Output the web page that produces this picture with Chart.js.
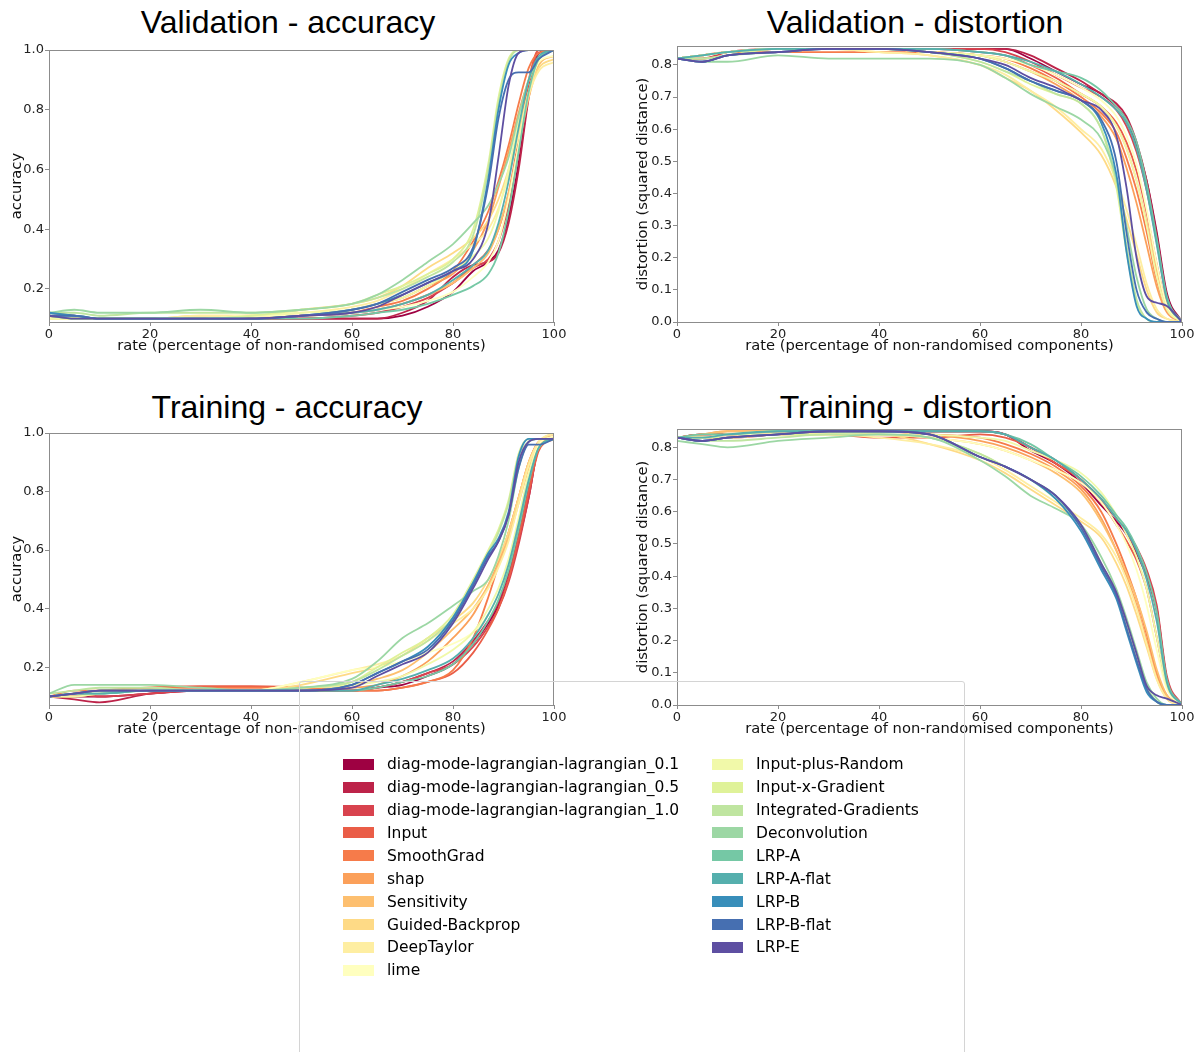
<!DOCTYPE html>
<html>
<head>
<meta charset="utf-8">
<script src="https://cdn.jsdelivr.net/npm/chart.js@4.4.1/dist/chart.umd.min.js"></script>
<style>
  html,body{margin:0;padding:0;background:#fff;}
  body{width:1203px;height:1052px;overflow:hidden;position:relative;font-family:"DejaVu Sans",sans-serif;}
  .ttl{position:absolute;font-family:"Liberation Sans",Arial,sans-serif;font-size:32px;line-height:32px;color:#000;white-space:nowrap;transform:translateX(-50%);}
  .cv{position:absolute;}
  #frame{position:absolute;left:299px;top:681px;width:666px;height:420px;box-sizing:border-box;border:1px solid #d4d4d4;border-radius:3px;pointer-events:none;}
  .col{position:absolute;top:752.85px;}
  .row{height:22.9px;display:flex;align-items:center;font-size:15.5px;color:#000;white-space:nowrap;}
  .sw{display:inline-block;width:31px;height:11px;margin-right:13px;flex:none;}
</style>
</head>
<body>
<script>
// ---------------- data ----------------
const rates = [0,5,10,20,30,40,50,60,65,70,75,80,84,87,89,91,93,95,97,100];
const methods = [
  "diag-mode-lagrangian-lagrangian_0.1","diag-mode-lagrangian-lagrangian_0.5","diag-mode-lagrangian-lagrangian_1.0",
  "Input","SmoothGrad","shap","Sensitivity","Guided-Backprop","DeepTaylor","lime",
  "Input-plus-Random","Input-x-Gradient","Integrated-Gradients","Deconvolution",
  "LRP-A","LRP-A-flat","LRP-B","LRP-B-flat","LRP-E"
];
const palette = [
  "#9e0142","#bd2349","#d8434e","#ea5d47","#f67b4a","#fba05a","#fdbf6f","#feda86","#feeea2","#ffffbf",
  "#f1f9a9","#dff299","#bfe5a0","#9cd7a4","#75c8a5","#55afad","#388eba","#466fb1","#5e4fa2"
];
const rateTicks = [0,20,40,60,80,100];
const accuracyTicks = [0.2,0.4,0.6,0.8,1.0];
const distortionTicks = [0.0,0.1,0.2,0.3,0.4,0.5,0.6,0.7,0.8];

// Validation - accuracy (rows follow `methods`)
const valAccuracy = [
  [0.11,0.10,0.10,0.10,0.10,0.10,0.10,0.10,0.10,0.11,0.14,0.19,0.26,0.29,0.33,0.44,0.62,0.85,0.99,1.0],
  [0.12,0.11,0.10,0.10,0.10,0.10,0.10,0.10,0.10,0.12,0.16,0.24,0.28,0.29,0.32,0.42,0.60,0.84,0.99,1.0],
  [0.11,0.10,0.10,0.10,0.10,0.10,0.10,0.11,0.12,0.14,0.17,0.22,0.27,0.30,0.36,0.48,0.66,0.88,1.0,1.0],
  [0.10,0.10,0.10,0.10,0.10,0.10,0.11,0.12,0.13,0.15,0.18,0.22,0.28,0.33,0.40,0.52,0.70,0.90,1.0,1.0],
  [0.11,0.10,0.10,0.10,0.10,0.10,0.11,0.12,0.14,0.16,0.20,0.26,0.36,0.46,0.56,0.68,0.82,0.94,0.99,1.0],
  [0.10,0.10,0.10,0.10,0.10,0.11,0.11,0.13,0.15,0.17,0.21,0.25,0.33,0.43,0.54,0.66,0.79,0.90,0.97,1.0],
  [0.11,0.10,0.10,0.10,0.10,0.10,0.11,0.12,0.13,0.15,0.18,0.22,0.27,0.32,0.40,0.52,0.68,0.84,0.95,0.98],
  [0.10,0.10,0.10,0.10,0.11,0.11,0.13,0.15,0.17,0.21,0.27,0.32,0.37,0.43,0.50,0.60,0.73,0.86,0.94,0.97],
  [0.10,0.10,0.10,0.10,0.11,0.11,0.12,0.14,0.16,0.20,0.25,0.30,0.35,0.40,0.47,0.58,0.71,0.85,0.93,0.96],
  [0.10,0.10,0.10,0.10,0.10,0.11,0.11,0.12,0.13,0.14,0.16,0.19,0.24,0.29,0.36,0.50,0.68,0.86,0.96,0.98],
  [0.10,0.10,0.10,0.10,0.10,0.11,0.12,0.13,0.15,0.17,0.21,0.26,0.31,0.37,0.46,0.60,0.76,0.90,0.97,1.0],
  [0.11,0.10,0.10,0.10,0.10,0.11,0.13,0.15,0.18,0.21,0.25,0.30,0.40,0.62,0.84,0.97,1.0,1.0,1.0,1.0],
  [0.12,0.12,0.11,0.12,0.12,0.12,0.13,0.15,0.17,0.20,0.24,0.29,0.38,0.60,0.82,0.96,1.0,1.0,1.0,1.0],
  [0.12,0.13,0.12,0.12,0.13,0.12,0.13,0.15,0.18,0.23,0.29,0.35,0.42,0.48,0.55,0.64,0.78,0.90,0.97,1.0],
  [0.11,0.10,0.10,0.10,0.10,0.10,0.10,0.11,0.12,0.13,0.15,0.18,0.21,0.25,0.32,0.46,0.66,0.86,0.97,1.0],
  [0.11,0.11,0.10,0.10,0.10,0.10,0.11,0.12,0.13,0.15,0.18,0.23,0.28,0.33,0.42,0.56,0.74,0.90,0.98,1.0],
  [0.12,0.11,0.10,0.10,0.10,0.10,0.11,0.13,0.15,0.18,0.22,0.26,0.33,0.57,0.80,0.95,0.99,1.0,1.0,1.0],
  [0.11,0.11,0.10,0.10,0.10,0.10,0.11,0.13,0.15,0.19,0.23,0.27,0.34,0.55,0.77,0.90,0.925,0.925,0.97,1.0],
  [0.11,0.10,0.10,0.10,0.10,0.10,0.11,0.12,0.14,0.18,0.22,0.26,0.30,0.42,0.64,0.88,0.99,1.0,1.0,1.0]
];

// Validation - distortion
const valDistortion = [
  [0.82,0.83,0.84,0.85,0.85,0.85,0.85,0.85,0.85,0.82,0.78,0.74,0.71,0.67,0.63,0.55,0.44,0.28,0.09,0.0],
  [0.82,0.82,0.83,0.85,0.85,0.85,0.85,0.85,0.85,0.83,0.79,0.75,0.71,0.68,0.64,0.56,0.44,0.27,0.08,0.0],
  [0.82,0.82,0.84,0.85,0.85,0.85,0.85,0.85,0.84,0.81,0.77,0.73,0.70,0.66,0.61,0.53,0.41,0.25,0.07,0.0],
  [0.82,0.83,0.84,0.85,0.85,0.85,0.85,0.84,0.83,0.80,0.76,0.71,0.67,0.62,0.56,0.47,0.34,0.18,0.05,0.0],
  [0.82,0.83,0.84,0.84,0.84,0.84,0.84,0.83,0.82,0.79,0.75,0.70,0.65,0.59,0.51,0.41,0.28,0.13,0.04,0.0],
  [0.82,0.83,0.84,0.85,0.85,0.85,0.84,0.83,0.81,0.78,0.74,0.69,0.64,0.57,0.48,0.37,0.24,0.11,0.03,0.0],
  [0.82,0.83,0.84,0.85,0.85,0.85,0.84,0.83,0.81,0.78,0.75,0.71,0.67,0.61,0.54,0.44,0.31,0.16,0.05,0.0],
  [0.82,0.83,0.84,0.85,0.85,0.84,0.83,0.80,0.76,0.72,0.66,0.59,0.52,0.42,0.32,0.21,0.10,0.03,0.01,0.0],
  [0.82,0.83,0.84,0.85,0.85,0.84,0.83,0.80,0.77,0.72,0.67,0.60,0.54,0.44,0.35,0.24,0.12,0.04,0.01,0.0],
  [0.82,0.83,0.84,0.85,0.85,0.85,0.84,0.83,0.82,0.80,0.77,0.73,0.69,0.64,0.58,0.49,0.35,0.18,0.05,0.0],
  [0.82,0.83,0.84,0.85,0.85,0.85,0.84,0.83,0.81,0.78,0.75,0.71,0.67,0.61,0.54,0.44,0.30,0.14,0.04,0.0],
  [0.82,0.82,0.83,0.85,0.85,0.85,0.84,0.81,0.78,0.74,0.71,0.68,0.60,0.42,0.22,0.06,0.01,0.0,0.0,0.0],
  [0.82,0.82,0.83,0.84,0.85,0.85,0.84,0.81,0.78,0.75,0.71,0.68,0.60,0.44,0.24,0.07,0.01,0.0,0.0,0.0],
  [0.82,0.81,0.81,0.83,0.82,0.82,0.82,0.80,0.76,0.71,0.67,0.63,0.57,0.45,0.30,0.14,0.04,0.01,0.0,0.0],
  [0.82,0.83,0.84,0.85,0.85,0.85,0.85,0.84,0.83,0.80,0.78,0.76,0.72,0.67,0.63,0.56,0.43,0.26,0.08,0.0],
  [0.82,0.83,0.84,0.85,0.85,0.85,0.85,0.84,0.83,0.81,0.78,0.74,0.70,0.66,0.62,0.54,0.41,0.24,0.07,0.0],
  [0.82,0.81,0.83,0.84,0.85,0.85,0.84,0.82,0.79,0.75,0.72,0.69,0.62,0.46,0.22,0.05,0.01,0.0,0.0,0.0],
  [0.82,0.81,0.83,0.84,0.85,0.85,0.84,0.82,0.79,0.75,0.72,0.69,0.63,0.50,0.28,0.10,0.03,0.01,0.0,0.0],
  [0.82,0.81,0.83,0.84,0.85,0.85,0.84,0.82,0.80,0.76,0.73,0.69,0.66,0.58,0.42,0.20,0.08,0.06,0.05,0.0]
];

// Training - accuracy
const trainAccuracy = [
  [0.10,0.10,0.10,0.11,0.12,0.12,0.12,0.12,0.13,0.14,0.17,0.21,0.28,0.35,0.41,0.50,0.63,0.78,0.95,0.98],
  [0.10,0.09,0.08,0.11,0.12,0.12,0.12,0.12,0.13,0.15,0.18,0.22,0.29,0.36,0.42,0.52,0.66,0.82,0.96,0.98],
  [0.10,0.11,0.10,0.11,0.12,0.12,0.12,0.12,0.13,0.15,0.18,0.21,0.27,0.34,0.40,0.49,0.62,0.78,0.95,0.98],
  [0.10,0.11,0.12,0.13,0.135,0.135,0.13,0.12,0.12,0.13,0.15,0.18,0.25,0.33,0.40,0.50,0.64,0.80,0.94,0.98],
  [0.10,0.12,0.12,0.13,0.13,0.13,0.13,0.12,0.12,0.13,0.15,0.19,0.30,0.44,0.55,0.66,0.78,0.90,0.97,0.98],
  [0.10,0.11,0.12,0.12,0.12,0.12,0.12,0.13,0.14,0.17,0.22,0.30,0.38,0.48,0.56,0.66,0.78,0.90,0.97,0.99],
  [0.10,0.10,0.11,0.12,0.12,0.12,0.13,0.14,0.16,0.19,0.25,0.33,0.40,0.48,0.55,0.64,0.76,0.88,0.96,0.99],
  [0.10,0.11,0.12,0.12,0.12,0.12,0.14,0.18,0.20,0.24,0.30,0.36,0.42,0.50,0.57,0.66,0.78,0.90,0.97,1.0],
  [0.10,0.11,0.12,0.12,0.12,0.12,0.15,0.19,0.21,0.24,0.29,0.35,0.40,0.47,0.54,0.63,0.76,0.89,0.97,1.0],
  [0.10,0.11,0.11,0.12,0.12,0.12,0.15,0.19,0.20,0.22,0.25,0.28,0.32,0.38,0.45,0.55,0.70,0.86,0.96,0.99],
  [0.10,0.10,0.11,0.12,0.12,0.12,0.13,0.14,0.15,0.17,0.21,0.26,0.32,0.40,0.47,0.57,0.71,0.86,0.95,0.98],
  [0.10,0.11,0.12,0.12,0.12,0.12,0.13,0.15,0.20,0.25,0.30,0.38,0.50,0.60,0.67,0.77,0.93,0.98,0.98,0.98],
  [0.11,0.12,0.13,0.13,0.12,0.12,0.13,0.15,0.19,0.24,0.29,0.37,0.49,0.59,0.66,0.76,0.92,0.97,0.98,0.98],
  [0.11,0.14,0.14,0.14,0.13,0.12,0.13,0.16,0.22,0.30,0.35,0.41,0.46,0.50,0.58,0.70,0.88,0.97,0.98,0.98],
  [0.10,0.11,0.11,0.12,0.12,0.12,0.12,0.12,0.13,0.15,0.17,0.21,0.28,0.36,0.43,0.53,0.67,0.83,0.95,0.98],
  [0.10,0.11,0.11,0.12,0.12,0.12,0.12,0.12,0.14,0.16,0.19,0.23,0.30,0.38,0.45,0.55,0.69,0.84,0.95,0.98],
  [0.10,0.11,0.12,0.12,0.12,0.12,0.12,0.14,0.18,0.22,0.27,0.37,0.49,0.59,0.64,0.73,0.92,0.98,0.98,0.98],
  [0.10,0.11,0.12,0.12,0.12,0.12,0.12,0.14,0.18,0.22,0.26,0.36,0.48,0.58,0.63,0.72,0.88,0.96,0.96,0.98],
  [0.10,0.11,0.12,0.12,0.12,0.12,0.12,0.13,0.17,0.21,0.25,0.35,0.47,0.57,0.63,0.72,0.90,0.97,0.98,0.98]
];

// Training - distortion
const trainDistortion = [
  [0.83,0.84,0.84,0.85,0.85,0.85,0.85,0.85,0.84,0.79,0.75,0.69,0.62,0.57,0.53,0.47,0.40,0.30,0.08,0.0],
  [0.83,0.83,0.84,0.84,0.85,0.85,0.85,0.85,0.84,0.80,0.75,0.70,0.63,0.58,0.54,0.48,0.40,0.29,0.08,0.0],
  [0.83,0.83,0.83,0.84,0.85,0.85,0.85,0.85,0.84,0.80,0.76,0.70,0.64,0.58,0.54,0.49,0.42,0.31,0.09,0.0],
  [0.83,0.84,0.84,0.84,0.84,0.83,0.83,0.84,0.83,0.80,0.75,0.70,0.63,0.56,0.51,0.45,0.36,0.21,0.06,0.0],
  [0.83,0.84,0.84,0.85,0.85,0.85,0.84,0.83,0.81,0.78,0.74,0.68,0.60,0.50,0.42,0.33,0.22,0.10,0.03,0.0],
  [0.83,0.84,0.85,0.85,0.85,0.85,0.84,0.82,0.80,0.77,0.73,0.67,0.58,0.48,0.40,0.31,0.20,0.09,0.02,0.0],
  [0.83,0.84,0.85,0.85,0.85,0.84,0.83,0.81,0.79,0.76,0.72,0.66,0.57,0.48,0.41,0.33,0.23,0.11,0.03,0.0],
  [0.83,0.83,0.84,0.84,0.84,0.84,0.81,0.76,0.72,0.67,0.62,0.57,0.52,0.44,0.37,0.28,0.18,0.08,0.02,0.0],
  [0.83,0.83,0.84,0.84,0.84,0.83,0.81,0.77,0.73,0.68,0.63,0.58,0.53,0.46,0.39,0.30,0.19,0.08,0.02,0.0],
  [0.83,0.83,0.84,0.84,0.84,0.84,0.83,0.81,0.79,0.76,0.73,0.69,0.63,0.56,0.50,0.42,0.31,0.17,0.05,0.0],
  [0.83,0.83,0.84,0.85,0.85,0.85,0.84,0.83,0.82,0.79,0.76,0.72,0.66,0.59,0.53,0.46,0.36,0.21,0.06,0.0],
  [0.83,0.83,0.83,0.84,0.84,0.84,0.83,0.78,0.74,0.70,0.65,0.55,0.43,0.34,0.25,0.15,0.05,0.01,0.0,0.0],
  [0.83,0.82,0.82,0.83,0.84,0.84,0.83,0.78,0.74,0.70,0.64,0.56,0.44,0.35,0.26,0.16,0.06,0.01,0.0,0.0],
  [0.82,0.81,0.80,0.82,0.83,0.84,0.83,0.76,0.71,0.65,0.61,0.56,0.46,0.36,0.27,0.17,0.07,0.02,0.0,0.0],
  [0.83,0.84,0.84,0.85,0.85,0.85,0.85,0.85,0.84,0.81,0.76,0.71,0.65,0.59,0.55,0.49,0.41,0.29,0.08,0.0],
  [0.83,0.83,0.84,0.85,0.85,0.85,0.85,0.85,0.84,0.80,0.76,0.70,0.64,0.58,0.54,0.48,0.39,0.26,0.07,0.0],
  [0.83,0.82,0.83,0.84,0.85,0.85,0.84,0.77,0.74,0.70,0.64,0.54,0.42,0.33,0.23,0.13,0.04,0.01,0.0,0.0],
  [0.83,0.82,0.83,0.84,0.85,0.85,0.84,0.77,0.74,0.70,0.65,0.55,0.43,0.34,0.24,0.14,0.05,0.01,0.0,0.0],
  [0.83,0.82,0.83,0.84,0.85,0.85,0.84,0.77,0.74,0.70,0.65,0.56,0.44,0.35,0.26,0.16,0.06,0.03,0.02,0.0]
];
</script>

<div class="ttl" style="left:288px;top:6px;">Validation - accuracy</div>
<div class="ttl" style="left:915px;top:6px;">Validation - distortion</div>
<div class="ttl" style="left:287px;top:391px;">Training - accuracy</div>
<div class="ttl" style="left:916px;top:391px;">Training - distortion</div>

<canvas id="c1" class="cv" width="600" height="320" style="left:0;top:40px;"></canvas>
<canvas id="c2" class="cv" width="583" height="330" style="left:620px;top:30px;"></canvas>
<canvas id="c3" class="cv" width="600" height="320" style="left:0;top:423px;"></canvas>
<canvas id="c4" class="cv" width="583" height="330" style="left:620px;top:413px;"></canvas>

<div id="frame"></div>
<div id="col1" class="col" style="left:343px;"></div>
<div id="col2" class="col" style="left:712px;"></div>

<script>
Chart.defaults.font.family = '"DejaVu Sans", sans-serif';
Chart.defaults.color = '#222';

const spineColor = '#8c8c8c';
const framePlugin = {
  id: 'frame',
  afterDatasetsDraw(chart) {
    const {ctx, chartArea: a} = chart;
    ctx.save();
    ctx.strokeStyle = spineColor;
    ctx.lineWidth = 1;
    ctx.strokeRect(a.left + 0.5, a.top + 0.5, a.right - a.left - 1, a.bottom - a.top);
    ctx.restore();
  }
};

function makeChart(id, series, yTicks, yMin, yMax, yTitle, yWidth, yTitlePad, padTop, padRight) {
  const datasets = methods.map((name, i) => ({
    label: name,
    data: rates.map((r, j) => ({x: r, y: series[i][j]})),
    borderColor: palette[i],
    backgroundColor: palette[i],
    borderWidth: 1.8,
    pointRadius: 0,
    cubicInterpolationMode: 'monotone',
    order: methods.length - i
  }));
  return new Chart(document.getElementById(id), {
    type: 'line',
    data: {datasets},
    plugins: [framePlugin],
    options: {
      responsive: false,
      animation: false,
      events: [],
      layout: {padding: {top: padTop, right: padRight, left: 0, bottom: 0}},
      plugins: {legend: {display: false}, tooltip: {enabled: false}},
      scales: {
        x: {
          type: 'linear', min: 0, max: 100,
          afterBuildTicks: s => { s.ticks = rateTicks.map(v => ({value: v})); },
          afterFit: s => { s.height = 38; },
          ticks: {font: {size: 13}, color: '#222', padding: 1, maxRotation: 0, callback: v => String(v)},
          grid: {display: true, drawOnChartArea: false, drawTicks: true, tickLength: 4, color: spineColor},
          border: {display: false},
          title: {display: true, text: 'rate (percentage of non-randomised components)', font: {size: 14.7}, color: '#111', padding: {top: 0, bottom: 5}}
        },
        y: {
          type: 'linear', min: yMin, max: yMax,
          afterBuildTicks: s => { s.ticks = yTicks.map(v => ({value: v})); },
          afterFit: s => { s.width = yWidth; },
          ticks: {font: {size: 13}, color: '#222', padding: 1, callback: v => v.toFixed(1)},
          grid: {display: true, drawOnChartArea: false, drawTicks: true, tickLength: 4, color: spineColor},
          border: {display: false},
          title: {display: true, text: yTitle, font: {size: 14.7}, color: '#111', padding: {top: yTitlePad, bottom: 0}}
        }
      }
    }
  });
}

makeChart('c1', valAccuracy, accuracyTicks, 0.089, 1.0, 'accuracy', 49, 8, 10, 46);
makeChart('c2', valDistortion, distortionTicks, 0.0, 0.859, 'distortion (squared distance)', 57, 14, 16, 21);
makeChart('c3', trainAccuracy, accuracyTicks, 0.071, 1.0, 'accuracy', 49, 8, 10, 46);
makeChart('c4', trainDistortion, distortionTicks, 0.0, 0.857, 'distortion (squared distance)', 57, 14, 16, 21);

// legend (HTML), two columns: 10 + 9 entries
const split = 10;
methods.forEach((name, i) => {
  const row = document.createElement('div');
  row.className = 'row';
  const sw = document.createElement('span');
  sw.className = 'sw';
  sw.style.background = palette[i];
  const tx = document.createElement('span');
  tx.textContent = name;
  row.appendChild(sw); row.appendChild(tx);
  document.getElementById(i < split ? 'col1' : 'col2').appendChild(row);
});
</script>
</body>
</html>
